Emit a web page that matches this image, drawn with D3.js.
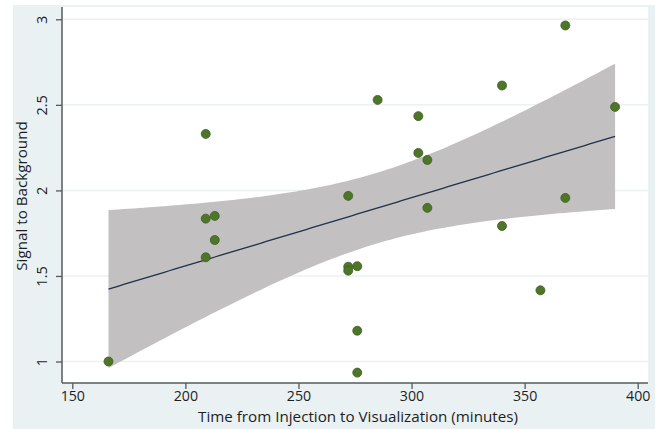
<!DOCTYPE html>
<html>
<head>
<meta charset="utf-8">
<script src="https://cdn.jsdelivr.net/npm/d3@7/dist/d3.min.js"></script>
<style>
  html, body { margin: 0; padding: 0; background: #ffffff; }
  svg { display: block; }
  text { font-family: "Open Sans", "Noto Sans", sans-serif; fill: #1e1e1e; }
</style>
</head>
<body>
<svg id="chart" width="660" height="429"></svg>
<script>
// ---- data ----
const timeMinutes = [166, 209, 209, 213, 213, 209, 272, 272, 272, 276, 276, 276,
                     285, 303, 303, 307, 307, 340, 340, 357, 368, 368, 390];
const signalToBackground = [1.00, 2.33, 1.835, 1.851, 1.71, 1.609, 1.968, 1.554, 1.531, 1.557, 1.18, 0.935,
                            2.529, 2.434, 2.219, 2.178, 1.898, 2.613, 1.792, 1.416, 2.964, 1.956, 2.488];
const xTicks = [150, 200, 250, 300, 350, 400];
const yTicks = [1, 1.5, 2, 2.5, 3];
const xTitle = "Time from Injection to Visualization (minutes)";
const yTitle = "Signal to Background";

// ---- layout ----
const W = 660, H = 429;
const plot = { left: 62, right: 648, top: 7, bottom: 383 };
const svg = d3.select("#chart");

// graph region (light blue) and plot region (white)
svg.append("rect").attr("x", 13).attr("y", 5).attr("width", 642).attr("height", H - 5).attr("fill", "#e9f1f3");
svg.append("rect").attr("x", plot.left).attr("y", plot.top)
   .attr("width", plot.right - plot.left).attr("height", plot.bottom - plot.top).attr("fill", "#ffffff");

const x = d3.scaleLinear().domain([150, 400]).range([72.3, 637.7]);
const y = d3.scaleLinear().domain([1, 3]).range([361.5, 19.3]);

// grid lines
svg.append("g").selectAll("line").data(yTicks).join("line")
  .attr("x1", plot.left).attr("x2", plot.right)
  .attr("y1", d => y(d)).attr("y2", d => y(d))
  .attr("stroke", "#eaf2f3").attr("stroke-width", 1.5);

// ---- linear fit with 95% CI (OLS) ----
const data = timeMinutes.map((t, i) => ({ x: t, y: signalToBackground[i] }));
const n = data.length;
const mx = d3.mean(data, d => d.x), my = d3.mean(data, d => d.y);
const sxx = d3.sum(data, d => (d.x - mx) ** 2);
const sxy = d3.sum(data, d => (d.x - mx) * (d.y - my));
const b = sxy / sxx, a = my - b * mx;
const sse = d3.sum(data, d => (d.y - (a + b * d.x)) ** 2);
const s = Math.sqrt(sse / (n - 2));
const tcrit = 2.0796; // t(0.975, df = 21)
const [xmin, xmax] = d3.extent(data, d => d.x);
const fitPts = d3.range(0, 101).map(i => {
  const xv = xmin + (xmax - xmin) * i / 100;
  const yv = a + b * xv;
  const se = s * Math.sqrt(1 / n + (xv - mx) ** 2 / sxx);
  return { x: xv, y: yv, lo: yv - tcrit * se, hi: yv + tcrit * se };
});

svg.append("path").datum(fitPts)
  .attr("d", d3.area().x(d => x(d.x)).y0(d => y(d.lo)).y1(d => y(d.hi)))
  .attr("fill", "#c2c0c0");

svg.append("path").datum(fitPts)
  .attr("d", d3.line().x(d => x(d.x)).y(d => y(d.y)))
  .attr("fill", "none").attr("stroke", "#22304a").attr("stroke-width", 1.3);

// points
svg.append("g").selectAll("circle").data(data).join("circle")
  .attr("cx", d => x(d.x)).attr("cy", d => y(d.y)).attr("r", 4.5)
  .attr("fill", "#4d7629").attr("stroke", "#3d5e21").attr("stroke-width", 0.8);

// ---- axes ----
const axisColor = "#555a5c";
// x axis
const gx = svg.append("g").attr("transform", `translate(0,${plot.bottom})`)
  .call(d3.axisBottom(x).tickValues(xTicks).tickFormat(d3.format("d")).tickSize(6).tickSizeOuter(0).tickPadding(2));
gx.select(".domain").remove();
gx.selectAll(".tick line").attr("stroke", axisColor).attr("stroke-width", 1.3);
gx.selectAll(".tick text").attr("font-size", 14.2).attr("fill", "#1e1e1e")
  .attr("font-family", '"Open Sans", sans-serif');
svg.append("line").attr("x1", plot.left).attr("x2", plot.right)
  .attr("y1", plot.bottom).attr("y2", plot.bottom).attr("stroke", axisColor).attr("stroke-width", 1.5);

// y axis
const gy = svg.append("g").attr("transform", `translate(${plot.left},0)`)
  .call(d3.axisLeft(y).tickValues(yTicks).tickFormat(d => String(d)).tickSize(6).tickSizeOuter(0));
gy.select(".domain").remove();
gy.selectAll(".tick line").attr("stroke", axisColor).attr("stroke-width", 1.3);
gy.selectAll(".tick text")
  .attr("font-size", 14.5).attr("fill", "#1e1e1e").attr("font-family", '"Open Sans", sans-serif')
  .attr("x", null).attr("dy", null)
  .attr("text-anchor", "middle")
  .attr("transform", "translate(-15,0) rotate(-90)");
svg.append("line").attr("x1", plot.left).attr("x2", plot.left)
  .attr("y1", plot.top).attr("y2", plot.bottom).attr("stroke", axisColor).attr("stroke-width", 1.5);

// titles
svg.append("text").attr("x", 358).attr("y", 421.5).attr("text-anchor", "middle")
  .attr("font-size", 15.2).text(xTitle);
svg.append("text").attr("transform", `translate(27,196) rotate(-90)`)
  .attr("text-anchor", "middle").attr("font-size", 15.2).text(yTitle);
</script>
</body>
</html>
